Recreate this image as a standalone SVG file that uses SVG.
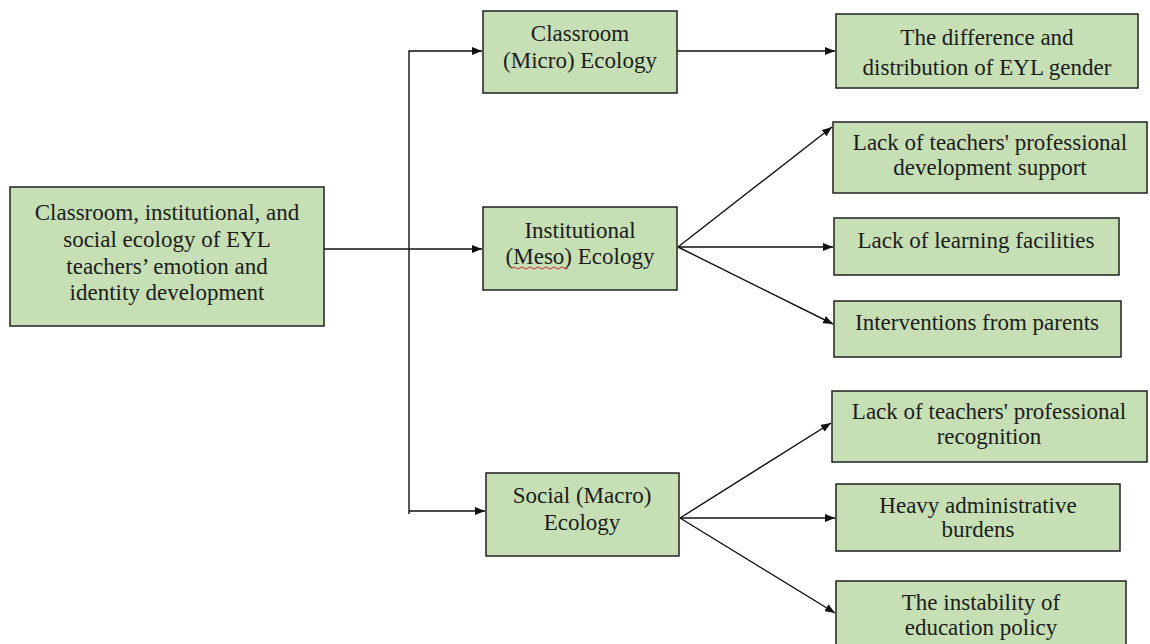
<svg xmlns="http://www.w3.org/2000/svg" width="1150" height="644" viewBox="0 0 1150 644">
<style>
.box{fill:#c6dfb4;stroke:#222;stroke-width:1.5}
text{font-family:"Liberation Serif","Times New Roman",serif;font-size:23px;fill:#1c1c1c;text-anchor:middle}
.c{fill:none;stroke:#111;stroke-width:1.4}
</style>
<defs>
<marker id="ah" viewBox="0 0 10 8" refX="10" refY="4" markerWidth="10" markerHeight="8" markerUnits="userSpaceOnUse" orient="auto">
<path d="M0,0 L10,4 L0,8 Z" fill="#111"/>
</marker>
</defs>
<rect width="1150" height="644" fill="#fff"/>
<g id="connectors">
<path class="c" d="M324,249 H482" marker-end="url(#ah)"/>
<path class="c" d="M409,514 V51 H482" marker-end="url(#ah)"/>
<path class="c" d="M409,511 H485" marker-end="url(#ah)"/>
<path class="c" d="M677,51 H835" marker-end="url(#ah)"/>
<path class="c" d="M678,247 L832,127" marker-end="url(#ah)"/>
<path class="c" d="M678,247 H833" marker-end="url(#ah)"/>
<path class="c" d="M678,247 L833,324" marker-end="url(#ah)"/>
<path class="c" d="M680,518 L831,423" marker-end="url(#ah)"/>
<path class="c" d="M680,518 H835" marker-end="url(#ah)"/>
<path class="c" d="M680,518 L835,613" marker-end="url(#ah)"/>
</g>
<g id="root">
<rect class="box" x="10" y="187" width="314" height="139"/>
<text x="167" y="220">Classroom, institutional, and</text>
<text x="167" y="247">social ecology of EYL</text>
<text x="167" y="274">teachers’ emotion and</text>
<text x="167" y="300">identity development</text>
</g>
<g id="micro">
<rect class="box" x="483" y="11" width="194" height="82"/>
<text x="580" y="41">Classroom</text>
<text x="580" y="68">(Micro) Ecology</text>
</g>
<g id="meso">
<rect class="box" x="483" y="207" width="194" height="83"/>
<text x="580" y="238">Institutional</text>
<text x="580" y="264">(Meso) Ecology</text>
<path d="M512,268 q2,-2 4,0 t4,0 t4,0 t4,0 t4,0 t4,0 t4,0 t4,0 t4,0 t4,0 t4,0 t4,0 t4,0 t4,0" fill="none" stroke="#d03030" stroke-width="1"/>
</g>
<g id="macro">
<rect class="box" x="486" y="473" width="193" height="83"/>
<text x="582" y="503">Social (Macro)</text>
<text x="582" y="530">Ecology</text>
</g>
<g id="gender">
<rect class="box" x="836" y="14" width="302" height="74"/>
<text x="987" y="45">The difference and</text>
<text x="987" y="75">distribution of EYL gender</text>
</g>
<g id="pd-support">
<rect class="box" x="833" y="122" width="314" height="71"/>
<text x="990" y="150">Lack of teachers' professional</text>
<text x="990" y="175">development support</text>
</g>
<g id="facilities">
<rect class="box" x="834" y="218" width="285" height="57"/>
<text x="976" y="248">Lack of learning facilities</text>
</g>
<g id="parents">
<rect class="box" x="834" y="301" width="287" height="56"/>
<text x="977" y="330">Interventions from parents</text>
</g>
<g id="recognition">
<rect class="box" x="832" y="391" width="315" height="71"/>
<text x="989" y="419">Lack of teachers' professional</text>
<text x="989" y="444">recognition</text>
</g>
<g id="admin">
<rect class="box" x="836" y="484" width="284" height="67"/>
<text x="978" y="513">Heavy administrative</text>
<text x="978" y="537">burdens</text>
</g>
<g id="policy">
<rect class="box" x="836" y="581" width="290" height="66"/>
<text x="981" y="610">The instability of</text>
<text x="981" y="635">education policy</text>
</g>
</svg>
